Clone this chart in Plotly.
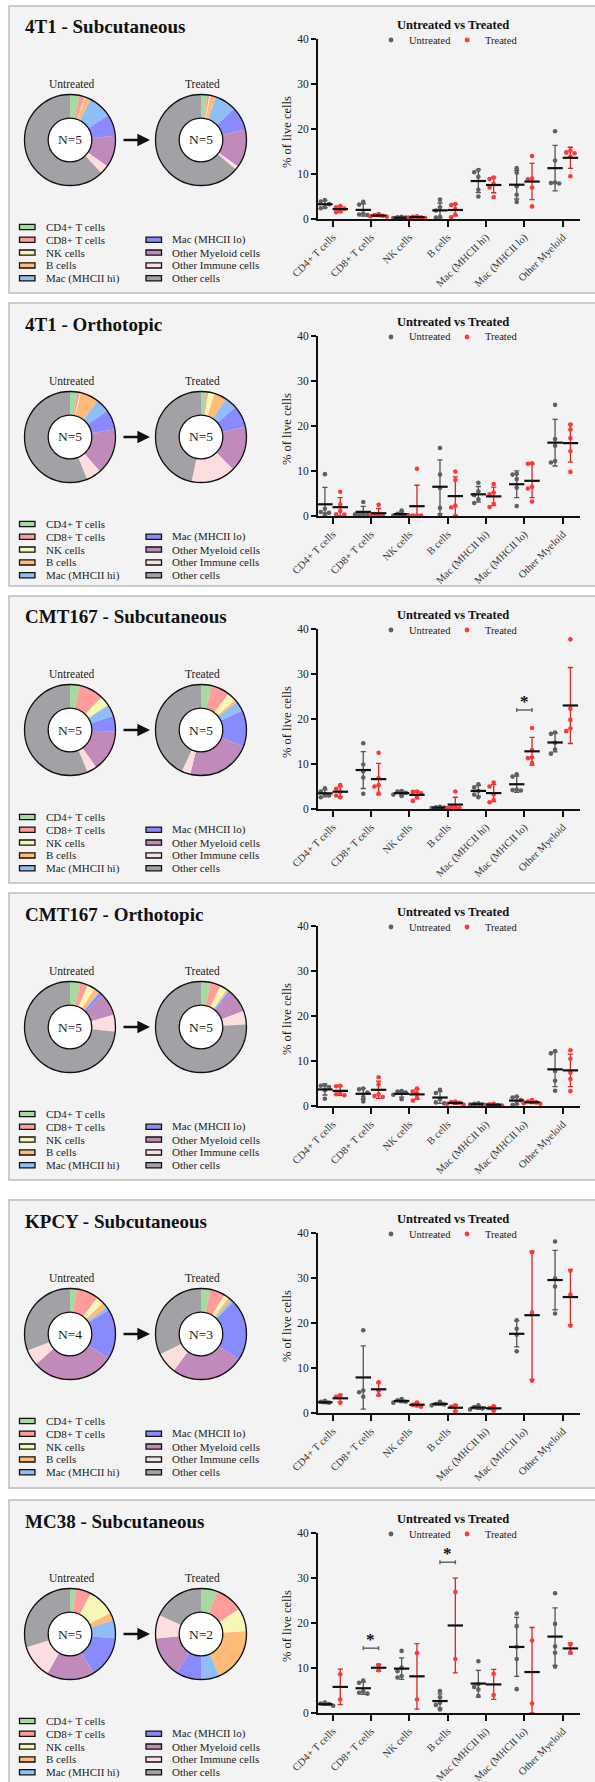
import numpy as np
import plotly.graph_objects as go

W, H = 595, 1782
FONT = "Liberation Serif"

# ---------------- data ----------------
categories = ["CD4+ T cells", "CD8+ T cells", "NK cells", "B cells",
              "Mac (MHCII hi)", "Mac (MHCII lo)", "Other Myeloid"]
pie_labels = ["CD4+ T cells", "CD8+ T cells", "NK cells", "B cells", "Mac (MHCII hi)",
              "Mac (MHCII lo)", "Other Myeloid cells", "Other Immune cells", "Other cells"]
pie_colors = ["#a6dba0", "#ff9c9c", "#f7f7b5", "#ffbb77", "#8fbdf5",
              "#8a8aff", "#c08bbb", "#fddede", "#a2a2a6"]

panel_titles = ["4T1 - Subcutaneous", "4T1 - Orthotopic", "CMT167 - Subcutaneous",
                "CMT167 - Orthotopic", "KPCY - Subcutaneous", "MC38 - Subcutaneous"]
n_untreated = [5, 5, 5, 5, 4, 5]
n_treated = [5, 5, 5, 5, 3, 2]

# % of live cells, one list per category (order = categories)
t4t1_sc_untreated = [[4.2, 3.9, 3.3, 2.6, 2.4], [3.8, 3.2, 1.2, 1.0, 0.9], [0.5, 0.4, 0.3, 0.2, 0.1],
                     [4.3, 2.6, 1.9, 0.5, 0.3], [10.9, 10.4, 9.4, 6.5, 5.0], [11.3, 10.3, 7.3, 5.4, 3.8],
                     [19.5, 13.0, 8.1, 8.0, 7.9]]
t4t1_sc_treated = [[2.9, 2.6, 2.3, 1.7, 1.5], [1.1, 0.9, 0.7, 0.6, 0.5], [0.6, 0.5, 0.4, 0.3, 0.2],
                   [3.3, 3.1, 2.2, 1.0, 0.4], [9.2, 8.9, 7.8, 7.0, 4.9], [14.0, 9.0, 8.8, 7.0, 2.8],
                   [15.2, 14.8, 14.6, 13.9, 9.5]]
t4t1_or_untreated = [[9.3, 1.6, 0.9, 0.7, 0.5], [3.1, 0.5, 0.4, 0.3, 0.3], [1.2, 0.5, 0.2, 0.1, 0.1],
                     [15.1, 9.2, 6.2, 1.8, 0.2], [7.4, 5.5, 4.6, 3.7, 2.9], [9.4, 9.2, 8.2, 6.3, 2.2],
                     [24.7, 17.1, 15.6, 12.2, 11.9]]
t4t1_or_treated = [[5.4, 2.6, 1.1, 0.4, 0.3], [2.5, 0.2, 0.2, 0.1, 0.1], [10.5, 0.1, 0.1, 0.1, 0.1],
                   [9.9, 8.0, 2.3, 1.9, 0.0], [7.1, 5.2, 4.8, 2.7, 2.0], [11.7, 11.6, 6.5, 6.1, 3.2],
                   [20.3, 19.2, 17.3, 14.4, 9.8]]
cmt_sc_untreated = [[4.6, 3.9, 3.3, 3.0, 2.6], [14.6, 9.9, 8.4, 7.0, 3.4], [4.0, 3.9, 3.6, 3.2, 2.9],
                    [0.5, 0.4, 0.3, 0.2, 0.1], [5.5, 4.8, 4.0, 3.2, 2.6], [7.7, 7.2, 4.3, 4.2, 4.1],
                    [17.0, 16.7, 14.7, 13.2, 12.3]]
cmt_sc_treated = [[5.3, 4.5, 3.8, 3.0, 2.6], [12.5, 6.9, 5.3, 5.0, 3.5], [3.9, 3.8, 3.5, 2.7, 1.8],
                  [3.9, 0.4, 0.3, 0.2, 0.1], [5.9, 5.0, 3.3, 2.0, 1.5], [18.0, 13.1, 11.5, 11.3, 10.2],
                  [37.7, 22.3, 19.8, 17.9, 17.3]]
cmt_or_untreated = [[4.6, 4.5, 4.2, 3.5, 1.6], [3.9, 3.7, 3.0, 2.0, 1.0], [3.3, 3.2, 3.0, 2.5, 1.5],
                    [3.6, 2.9, 1.5, 0.8, 0.6], [0.6, 0.5, 0.4, 0.3, 0.2], [2.1, 1.9, 1.3, 0.5, 0.2],
                    [12.2, 11.7, 7.8, 5.6, 3.4]]
cmt_or_treated = [[4.5, 4.4, 2.9, 2.6, 2.4], [6.4, 4.8, 2.6, 2.2, 2.0], [3.9, 3.2, 2.8, 1.8, 1.2],
                  [1.0, 0.9, 0.7, 0.5, 0.3], [0.5, 0.4, 0.2, 0.2, 0.1], [1.3, 1.0, 0.8, 0.6, 0.5],
                  [12.4, 10.5, 7.4, 6.0, 3.3]]
kpcy_sc_untreated = [[2.7, 2.5, 2.3, 2.0], [18.4, 5.0, 4.6, 3.6], [3.1, 2.8, 2.5, 2.3],
                     [2.5, 2.0, 1.9, 1.7], [1.7, 1.3, 1.0, 0.8], [20.6, 18.7, 17.4, 13.7],
                     [38.1, 29.9, 28.1, 22.1]]
kpcy_sc_treated = [[3.9, 3.6, 2.3], [6.8, 5.0, 4.0], [2.3, 1.8, 1.4], [1.7, 1.4, 0.4],
                   [1.5, 1.1, 0.5], [35.7, 22.3, 7.2], [31.6, 26.3, 19.4]]
mc38_sc_untreated = [[2.3, 2.1, 2.0, 1.8, 1.6], [7.2, 6.7, 4.8, 4.5, 4.3], [13.8, 10.1, 9.3, 8.2, 7.9],
                     [4.9, 3.5, 2.3, 1.8, 0.8], [11.5, 6.4, 5.8, 5.2, 3.8], [22.1, 19.3, 14.7, 12.0, 5.3],
                     [26.6, 19.8, 14.8, 13.4, 10.3]]
mc38_sc_treated = [[8.6, 3.0], [10.6, 9.5], [13.3, 3.0], [26.9, 12.0], [8.7, 4.0], [16.1, 2.1], [15.2, 13.5]]

# donut composition (order = pie_labels)
pie_4t1_sc_untreated = [3.3, 2.0, 0.3, 1.9, 8.4, 7.6, 11.3, 3.1, 62.1]
pie_4t1_sc_treated = [2.2, 0.8, 0.4, 2.0, 7.6, 8.3, 13.6, 1.3, 63.8]
pie_4t1_or_untreated = [2.6, 0.9, 0.4, 6.5, 4.8, 7.1, 16.3, 5.3, 56.1]
pie_4t1_or_treated = [2.0, 0.6, 2.2, 4.4, 4.4, 7.8, 16.2, 15.7, 46.7]
pie_cmt_sc_untreated = [3.5, 8.7, 3.5, 0.3, 4.0, 5.5, 14.8, 3.4, 56.3]
pie_cmt_sc_treated = [3.8, 6.6, 3.1, 1.0, 3.5, 12.8, 23.0, 3.1, 43.1]
pie_cmt_or_untreated = [3.7, 2.7, 2.7, 1.9, 0.4, 1.2, 8.1, 6.0, 73.3]
pie_cmt_or_treated = [3.4, 3.6, 2.6, 0.7, 0.3, 0.8, 7.9, 4.8, 75.9]
pie_kpcy_sc_untreated = [2.4, 7.9, 2.7, 2.0, 1.2, 17.6, 29.6, 5.7, 30.9]
pie_kpcy_sc_treated = [3.3, 5.3, 1.8, 1.2, 1.0, 21.8, 25.8, 7.5, 32.3]
pie_mc38_sc_untreated = [2.0, 5.5, 9.9, 2.7, 6.5, 14.7, 17.0, 12.0, 29.7]
pie_mc38_sc_treated = [5.8, 10.0, 8.2, 19.5, 6.4, 9.1, 14.4, 8.4, 18.2]

# significance: (panel index, category index, bracket level in %)
significance = [(2, 5, 22.0), (5, 1, 14.4), (5, 3, 33.5)]

panels = [
    (t4t1_sc_untreated, t4t1_sc_treated, pie_4t1_sc_untreated, pie_4t1_sc_treated),
    (t4t1_or_untreated, t4t1_or_treated, pie_4t1_or_untreated, pie_4t1_or_treated),
    (cmt_sc_untreated, cmt_sc_treated, pie_cmt_sc_untreated, pie_cmt_sc_treated),
    (cmt_or_untreated, cmt_or_treated, pie_cmt_or_untreated, pie_cmt_or_treated),
    (kpcy_sc_untreated, kpcy_sc_treated, pie_kpcy_sc_untreated, pie_kpcy_sc_treated),
    (mc38_sc_untreated, mc38_sc_treated, pie_mc38_sc_untreated, pie_mc38_sc_treated),
]

# ---------------- layout helpers ----------------
def fx(px):
    return px / W


def fy(py):
    return 1 - py / H


panel_tops = [6, 303, 596, 893, 1200, 1500]
panel_bottoms = [293, 586, 883, 1180, 1488, 1800]

X_L, X_R = 318, 580
XR = [-0.38, 6.45]
PX_X = (X_R - X_L) / (XR[1] - XR[0])
PX_Y = 180 / 40.0
GROUP_OFF = 0.2
DOT = 4.6


def swarm(vals):
    vals = np.asarray(vals, float)
    order = np.argsort(-vals, kind="stable")
    placed = []
    offs = np.zeros(len(vals))
    for i in order:
        y = vals[i] * PX_Y
        chosen = 0.0
        for k in [0, -1, 1, -2, 2, -3, 3]:
            x = k * DOT * 0.9
            if all((x - a) ** 2 + (y - b) ** 2 >= (DOT * 0.9) ** 2 for a, b in placed):
                chosen = x
                break
        placed.append((chosen, y))
        offs[i] = chosen
    return offs / PX_X


def text(t, px, py, size, anchor="center", color="#222", angle=0):
    return dict(text=t, xref="paper", yref="paper", x=fx(px), y=fy(py), xanchor=anchor,
                yanchor="middle", showarrow=False, textangle=angle,
                font=dict(family=FONT, size=size, color=color))


fig = go.Figure()
shapes, annotations = [], []
layout_axes = {}

for i, (unt, trt, pie_u, pie_t) in enumerate(panels):
    T = panel_tops[i]
    # panel box
    shapes.append(dict(type="rect", xref="paper", yref="paper", x0=fx(9), x1=fx(610),
                       y0=fy(panel_bottoms[i]), y1=fy(T), fillcolor="#f3f3f3",
                       line=dict(color="#bdbdbd", width=1.5), layer="below"))
    # title
    annotations.append(text("<b>%s</b>" % panel_titles[i], 23, T + 21, 19, "left", "#111"))
    # donuts
    cy = T + 134
    R = 45.5
    for cx, vals, lab, n in [(70, pie_u, "Untreated", n_untreated[i]), (201, pie_t, "Treated", n_treated[i])]:
        fig.add_trace(go.Pie(values=vals, labels=pie_labels, marker=dict(colors=pie_colors, line=dict(width=0)),
                             hole=0.48, sort=False, direction="clockwise", rotation=0, textinfo="none",
                             showlegend=False, hoverinfo="label+value", automargin=False,
                             domain=dict(x=[fx(cx - R), fx(cx + R)], y=[fy(cy + R), fy(cy - R)])))
        shapes.append(dict(type="circle", xref="paper", yref="paper", x0=fx(cx - R), x1=fx(cx + R),
                           y0=fy(cy + R), y1=fy(cy - R), line=dict(color="#111", width=1.3), layer="above"))
        r = R * 0.48
        shapes.append(dict(type="circle", xref="paper", yref="paper", x0=fx(cx - r), x1=fx(cx + r),
                           y0=fy(cy + r), y1=fy(cy - r), fillcolor="white",
                           line=dict(color="#111", width=1.3), layer="above"))
        annotations.append(text("N=%d" % n, cx, cy, 13.5))
        annotations.append(text(lab, cx + 1.5, T + 78, 11.5))
    annotations.append(dict(text="", xref="paper", yref="paper", axref="pixel", ayref="pixel",
                            x=fx(150), y=fy(cy), ax=-28, ay=0, showarrow=True,
                            arrowhead=2, arrowsize=1.1, arrowwidth=2.3, arrowcolor="#111"))
    # donut legend
    for k, (lab, col) in enumerate(zip(pie_labels, pie_colors)):
        if k < 5:
            row, sx, tx = k, 19.5, 44
        else:
            row, sx, tx = k - 4, 146, 170
        yy = T + 221 + 12.8 * row
        shapes.append(dict(type="rect", xref="paper", yref="paper", x0=fx(sx), x1=fx(sx + 15.5),
                           y0=fy(yy + 2.6), y1=fy(yy - 2.6), fillcolor=col,
                           line=dict(color="#111", width=1.3), layer="above"))
        annotations.append(text(lab, tx, yy, 11, "left"))

    # dot plot axes
    sfx = "" if i == 0 else str(i + 1)
    xa, ya = "x" + sfx, "y" + sfx
    layout_axes["xaxis" + sfx] = dict(
        domain=[fx(X_L), fx(X_R)], range=XR, anchor=ya, tickmode="array", automargin=False,
        tickvals=list(range(len(categories))), ticktext=categories, tickangle=-45,
        ticks="outside", ticklen=6, tickwidth=2, tickcolor="#111", showline=True, linewidth=2,
        linecolor="#111", showgrid=False, zeroline=False, fixedrange=True,
        tickfont=dict(family=FONT, size=10.5, color="#333"))
    layout_axes["yaxis" + sfx] = dict(
        domain=[fy(T + 213), fy(T + 33)], range=[0, 40], anchor=xa, tickmode="array", automargin=False,
        tickvals=[0, 10, 20, 30, 40], ticks="outside", ticklen=5, tickwidth=2, tickcolor="#111",
        showline=True, linewidth=2, linecolor="#111", showgrid=False, zeroline=False,
        fixedrange=True, tickfont=dict(family=FONT, size=11.5, color="#222"))

    for vals_list, off, pcol, ecol in [(unt, -GROUP_OFF, "#606060", "#555555"),
                                      (trt, GROUP_OFF, "#ff3838", "#d42a2a")]:
        xs, ys = [], []
        for c, vals in enumerate(vals_list):
            xs.extend(list(c + off + swarm(vals)))
            ys.extend(vals)
        means = np.array([np.mean(v) for v in vals_list])
        sds = np.array([np.std(v, ddof=1) for v in vals_list])
        fig.add_trace(go.Scatter(x=[c + off for c in range(len(vals_list))], y=means, mode="markers",
                                 xaxis=xa, yaxis=ya, cliponaxis=False, showlegend=False,
                                 marker=dict(symbol="line-ew", size=1, line=dict(width=0, color=ecol)),
                                 error_y=dict(type="data", array=sds, arrayminus=np.minimum(sds, means),
                                              color=ecol, thickness=1.3, width=2.6)))
        fig.add_trace(go.Scatter(x=xs, y=ys, mode="markers", xaxis=xa, yaxis=ya, cliponaxis=False,
                                 marker=dict(size=DOT, color=pcol), showlegend=False, hoverinfo="y"))
        fig.add_trace(go.Scatter(x=[c + off for c in range(len(vals_list))], y=means, mode="markers",
                                 xaxis=xa, yaxis=ya, cliponaxis=False, showlegend=False,
                                 marker=dict(symbol="line-ew", size=11, line=dict(width=2.2, color="#111"))))

    # dot plot title & legend
    annotations.append(text("<b>Untreated vs Treated</b>", 453, T + 19, 12.5, "center", "#111"))
    for dx, col, lab in [(391, "#606060", "Untreated"), (467, "#ff3838", "Treated")]:
        shapes.append(dict(type="circle", xref="paper", yref="paper", x0=fx(dx - 2.4), x1=fx(dx + 2.4),
                           y0=fy(T + 34 + 2.4), y1=fy(T + 34 - 2.4), fillcolor=col, line=dict(width=0)))
        annotations.append(text(lab, dx + 16, T + 34, 10.5, "left"))
    annotations.append(text("% of live cells", 287, T + 126, 12.5, "center", "#222", -90))

# significance marks
for (pi, ci, lvl) in significance:
    sfx = "" if pi == 0 else str(pi + 1)
    xa, ya = "x" + sfx, "y" + sfx
    x0, x1 = ci - GROUP_OFF, ci + GROUP_OFF
    for seg in [(x0, lvl, x1, lvl), (x0, lvl - 0.45, x0, lvl + 0.45), (x1, lvl - 0.45, x1, lvl + 0.45)]:
        shapes.append(dict(type="line", xref=xa, yref=ya, x0=seg[0], y0=seg[1], x1=seg[2], y1=seg[3],
                           line=dict(color="#666", width=1.5)))
    annotations.append(dict(text="<b>*</b>", xref=xa, yref=ya, x=ci, y=lvl + 2.0, showarrow=False,
                            xanchor="center", yanchor="middle", font=dict(family=FONT, size=17, color="#111")))

fig.update_layout(width=W, height=H, autosize=False,
                  margin=dict(l=0, r=0, t=0, b=0, pad=0, autoexpand=False),
                  paper_bgcolor="white", plot_bgcolor="rgba(0,0,0,0)", showlegend=False,
                  shapes=shapes, annotations=annotations, **layout_axes)
fig.write_html("out.html", config={"displayModeBar": False, "staticPlot": False},
               post_script="document.body.style.margin='0';document.body.style.padding='0';"
                           "document.documentElement.style.margin='0';")
